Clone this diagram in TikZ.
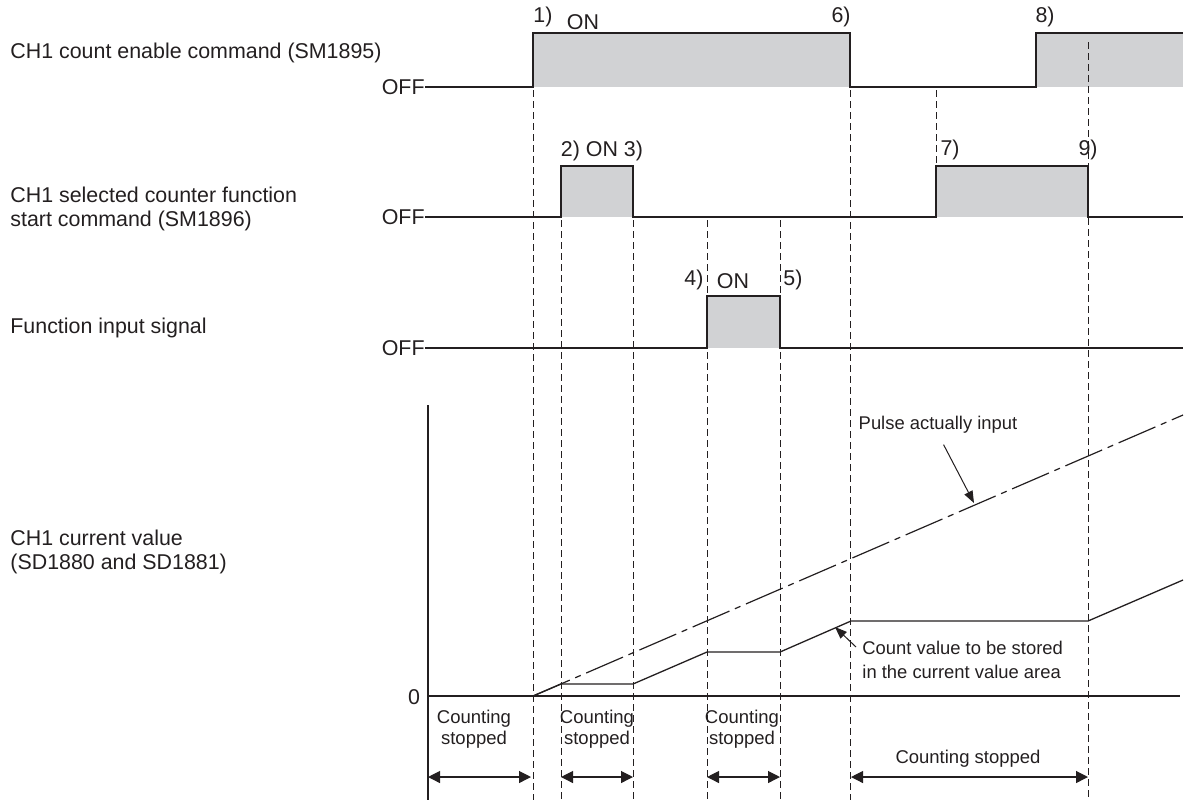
\documentclass[tikz,border=0pt]{standalone}
\usepackage{fontspec}
\setmainfont{Liberation Sans}
\usepackage{tikz}
\usetikzlibrary{arrows.meta,positioning}
\definecolor{ink}{RGB}{35,31,32}
\definecolor{onfill}{RGB}{209,210,212}

\begin{document}
\begin{tikzpicture}[x=0.5pt, y=-0.5pt,
  %% ── Text styles ─────────────────────────────────────────────────────────
  lbl/.style={font=\fontsize{10.7}{12.2}\selectfont, text=ink, inner sep=0pt, align=left},
  tag/.style={font=\fontsize{10.7}{12}\selectfont, text=ink, inner sep=0pt},
  note/.style={font=\fontsize{9.2}{12}\selectfont, text=ink, inner sep=0pt, align=left},
  stop/.style={font=\fontsize{9.25}{10.5}\selectfont, text=ink, inner sep=0pt, align=center},
  %% ── Line styles ─────────────────────────────────────────────────────────
  sig/.style={draw=ink, line width=1.05pt, line join=miter},
  guide/.style={draw=ink, line width=0.5pt, dash pattern=on 3.5pt off 2pt},
  cnt/.style={draw=ink, line width=0.65pt},
  pulse/.style={draw=ink, line width=0.6pt, dash pattern=on 20pt off 3pt on 3pt off 3pt},
  axis/.style={draw=ink, line width=0.6pt},
  span/.style={{Triangle[length=6pt,width=6pt]}-{Triangle[length=6pt,width=6pt]},
               draw=ink, line width=0.6pt},
  pointer/.style={-{Triangle[length=6pt,width=4.5pt]}, draw=ink, line width=0.5pt}
]
\useasboundingbox (0,0) rectangle (1187,800);

%% ── ON areas (grey) ─────────────────────────────────────────────────────────
\fill[onfill] (533,33)  rectangle (850,87);
\fill[onfill] (1036,33) rectangle (1183,87);
\fill[onfill] (561,166) rectangle (633,217);
\fill[onfill] (936,166) rectangle (1088,217);
\fill[onfill] (707,296) rectangle (780,348);

%% ── Timing guides (dashed) ──────────────────────────────────────────────────
\foreach \x/\ya/\yb in {533/90/800, 561/220/800, 633/220/800, 707/220/800,
                        780/220/800, 850/90/800, 936/90/166, 1088/42/800}
  \draw[guide] (\x,\ya) -- (\x,\yb);

%% ── Signal names (left) ─────────────────────────────────────────────────────
\node[lbl, anchor=west] (lblEnable)  at (10,53)  {CH1 count enable command (SM1895)};
\node[lbl, anchor=west] (lblStart)   at (10,209) {CH1 selected counter function\\start command (SM1896)};
\node[lbl, anchor=west] (lblInput)   at (10,328) {Function input signal};
\node[lbl, anchor=west] (lblCurrent) at (10,552) {CH1 current value\\(SD1880 and SD1881)};

%% ── OFF levels ──────────────────────────────────────────────────────────────
\node[tag, anchor=east] (off1) at (425,87)  {OFF};
\node[tag, anchor=east] (off2) at (425,217) {OFF};
\node[tag, anchor=east] (off3) at (425,348) {OFF};

%% ── Signal 1: count enable ──────────────────────────────────────────────────
\draw[sig] (off1.east) -- (533,87) -- (533,33) -- (850,33) -- (850,87)
  -- (1036,87) -- (1036,33) -- (1183,33);
%% ── Signal 2: counter function start ────────────────────────────────────────
\draw[sig] (off2.east) -- (561,217) -- (561,166) -- (633,166) -- (633,217)
  -- (936,217) -- (936,166) -- (1088,166) -- (1088,217) -- (1183,217);
%% ── Signal 3: function input ────────────────────────────────────────────────
\draw[sig] (off3.east) -- (707,348) -- (707,296) -- (780,296) -- (780,348) -- (1183,348);

%% ── Event numbers ───────────────────────────────────────────────────────────
\node[tag] (ev1) at (543,17)  {1)};
\node[tag] (on1) at (583,22)  {ON};
\node[tag] (ev6) at (841,17)  {6)};
\node[tag] (ev8) at (1045,17) {8)};
\node[tag] (ev2) at (602,151) {2) ON 3)};
\node[tag] (ev7) at (950,150) {7)};
\node[tag] (ev9) at (1088,150) {9)};
\node[tag] (ev4) at (694,280) {4)};
\node[tag] (on3) at (733,281) {ON};
\node[tag] (ev5) at (793,280) {5)};

%% ── Current value graph ─────────────────────────────────────────────────────
\draw[axis] (428,405) -- (428,800);
\draw[axis] (428,696) -- (1180,696);
\node[tag] (zero) at (414,697) {0};
\draw[pulse] (533,696) -- (1183,415);
\draw[cnt] (428,696) -- (533,696) -- (561,684) -- (633,684) -- (707,652)
  -- (780,652) -- (851,621) -- (1088,621) -- (1183,580);

%% ── Annotations ─────────────────────────────────────────────────────────────
\node[note] (lblPulse) at (938,425) {Pulse actually input};
\coordinate (pulsehit) at (974,503);
\draw[pointer, shorten <=6pt] (lblPulse.south) -- (pulsehit);
\node[note, anchor=west] (lblCount) at (862,660) {Count value to be stored\\in the current value area};
\coordinate (counttail) at (856,647);
\coordinate (counthit)  at (835,627);
\draw[pointer] (counttail) -- (counthit);

%% ── Counting stopped spans ──────────────────────────────────────────────────
\foreach \n/\x in {ax/428, t1/531, t2/561, t3/633, t4/707, t5/780, t6/851, t9/1088}
  \coordinate (\n) at (\x,777);
\draw[span] (ax) -- (t1);
\draw[span] (t2) -- (t3);
\draw[span] (t4) -- (t5);
\draw[span] (t6) -- (t9);
\node[stop] (stopA) at (474,729) {Counting\\stopped};
\node[stop] (stopB) at (597,729) {Counting\\stopped};
\node[stop] (stopC) at (742,729) {Counting\\stopped};
\node[stop] (stopD) at (968,759) {Counting stopped};

\end{tikzpicture}
\end{document}
